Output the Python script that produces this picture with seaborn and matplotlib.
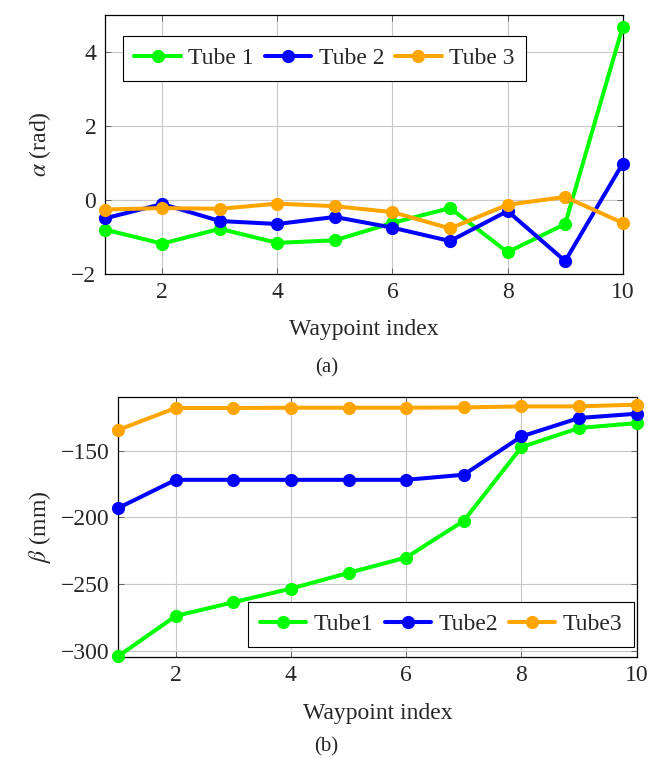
import numpy as np
import pandas as pd
import matplotlib
matplotlib.use("Agg")
import matplotlib.pyplot as plt
from matplotlib.lines import Line2D
import seaborn as sns

waypoints = [1, 2, 3, 4, 5, 6, 7, 8, 9, 10]
alpha_tube1 = [-0.80, -1.18, -0.78, -1.16, -1.09, -0.62, -0.22, -1.41, -0.65, 4.67]
alpha_tube2 = [-0.50, -0.11, -0.57, -0.65, -0.46, -0.75, -1.11, -0.30, -1.65, 0.98]
alpha_tube3 = [-0.26, -0.22, -0.24, -0.10, -0.17, -0.33, -0.77, -0.13, 0.08, -0.62]
beta_tube1 = [-304.0, -273.8, -263.5, -253.3, -241.5, -230.0, -202.5, -147.3, -133.0, -129.3]
beta_tube2 = [-193.0, -171.8, -171.8, -171.8, -171.8, -171.8, -168.0, -139.3, -125.5, -122.3]
beta_tube3 = [-134.5, -118.0, -118.0, -117.8, -117.8, -117.8, -117.6, -116.8, -116.8, -115.5]
labels_a = ["Tube 1", "Tube 2", "Tube 3"]
labels_b = ["Tube1", "Tube2", "Tube3"]
colors = ["#00FF00", "#0000FF", "#FFA500"]

sns.set_style("ticks")
plt.rcParams["font.family"] = ["Liberation Serif", "DejaVu Serif"]
plt.rcParams["mathtext.fontset"] = "stix"
FS = 17
LW = 2.9
MS = 9.5

fig = plt.figure(figsize=(6.53, 7.58), dpi=100)
W, H = 653.0, 758.0
ax1 = fig.add_axes([104.7 / W, (H - 274) / H, 518 / W, 259.3 / H])
ax2 = fig.add_axes([118 / W, (H - 657) / H, 518.7 / W, 259.7 / H])


def make_df(series, labels):
    rows = []
    for vals, lab in zip(series, labels):
        for x, v in zip(waypoints, vals):
            rows.append({"x": x, "y": v, "tube": lab})
    return pd.DataFrame(rows)


def draw(ax, df, labels, ylim, yticks, ylabel, legend_loc, bbox, ylab_x, xpad):
    sns.lineplot(data=df, x="x", y="y", hue="tube", hue_order=labels,
                 palette=colors, marker="o", markersize=MS,
                 markeredgewidth=0, linewidth=LW, ax=ax, legend=False,
                 clip_on=False, zorder=3)
    ax.set_xlim(1, 10)
    ax.set_ylim(*ylim)
    ax.set_xticks([2, 4, 6, 8, 10])
    ax.set_yticks(yticks)
    ax.grid(True, color="#c8c8c8", linewidth=0.8, zorder=0)
    ax.tick_params(direction="in", top=True, right=True, labelsize=FS,
                   length=4, width=0.6, color="#555555", pad=6)
    for s in ax.spines.values():
        s.set_linewidth(0.9)
        s.set_color("black")
    ax.set_xlabel("Waypoint index", fontsize=FS, labelpad=xpad)
    ax.set_ylabel(ylabel, fontsize=FS)
    ax.yaxis.set_label_coords(ylab_x, 0.5)
    handles = [Line2D([], [], color=c, marker="o", markersize=MS,
                      markeredgewidth=0, linewidth=LW) for c in colors]
    leg = ax.legend(handles, labels, loc=legend_loc, bbox_to_anchor=bbox,
                    ncol=3, fontsize=FS, frameon=True, fancybox=False,
                    edgecolor="black", framealpha=1, handlelength=1.95,
                    handletextpad=0.32, columnspacing=0.48, borderpad=0.5,
                    borderaxespad=0.0)
    leg.get_frame().set_linewidth(0.8)
    leg.set_zorder(5)


draw(ax1, make_df([alpha_tube1, alpha_tube2, alpha_tube3], labels_a), labels_a,
     (-2, 5), [-2, 0, 2, 4], r"$\alpha$ (rad)", "upper left",
     (0.0347, 0.918), (53 - 104.7) / 518, 11)
draw(ax2, make_df([beta_tube1, beta_tube2, beta_tube3], labels_b), labels_b,
     (-304.5, -110), [-300, -250, -200, -150], r"$\beta$ (mm)", "lower right",
     (0.995, 0.0385), (53 - 118) / 518.7, 12)

fig.text(0.5, 1 - 368 / H, "(a)", ha="center", va="center", fontsize=15)
fig.text(0.5, 1 - 747 / H, "(b)", ha="center", va="center", fontsize=15)

fig.savefig("out.png", dpi=100)
